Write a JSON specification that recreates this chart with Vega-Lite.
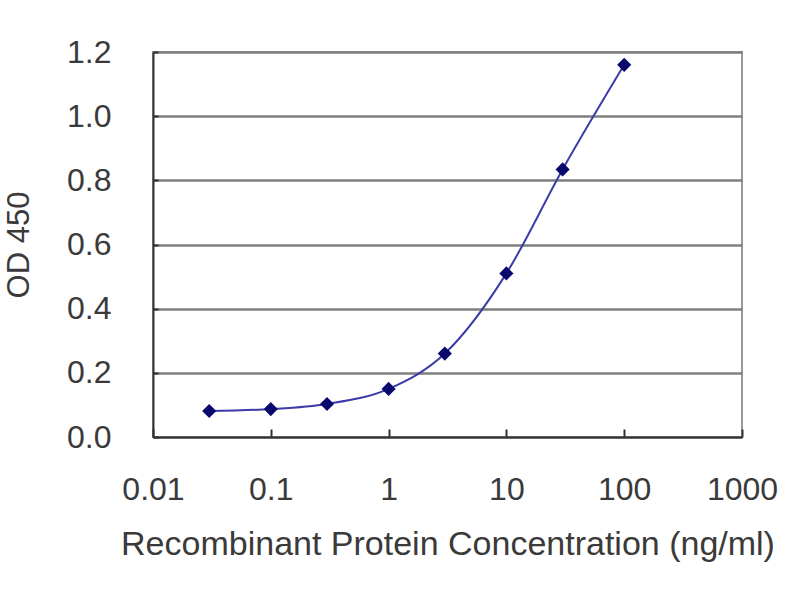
{
  "$schema": "https://vega.github.io/schema/vega-lite/v6.json",
  "autosize": {"type": "none"},
  "padding": {"left": 153, "top": 52, "right": 58, "bottom": 163},
  "width": 589,
  "height": 385,
  "background": "white",
  "config": {
    "view": {"stroke": "#9a9a9a", "strokeWidth": 2},
    "font": "Liberation Sans",
    "axis": {
      "labelFont": "Liberation Sans",
      "titleFont": "Liberation Sans",
      "labelColor": "#3a3a3a",
      "titleColor": "#3a3a3a",
      "titleFontWeight": "normal",
      "domainColor": "#333333",
      "domainWidth": 2,
      "tickColor": "#333333",
      "tickWidth": 2
    }
  },
  "data": {
    "values": [
      {"conc": 0.03, "od": 0.081},
      {"conc": 0.1, "od": 0.087},
      {"conc": 0.3, "od": 0.103},
      {"conc": 1, "od": 0.15},
      {"conc": 3, "od": 0.26},
      {"conc": 10, "od": 0.51},
      {"conc": 30, "od": 0.834},
      {"conc": 100, "od": 1.16}
    ]
  },
  "encoding": {
    "x": {
      "field": "conc",
      "type": "quantitative",
      "scale": {"type": "log", "domain": [0.01, 1000], "nice": false},
      "axis": {
        "title": "Recombinant Protein Concentration (ng/ml)",
        "values": [0.01, 0.1, 1, 10, 100, 1000],
        "format": "~g",
        "labelFontSize": 32,
        "titleFontSize": 34,
        "tickSize": -8,
        "labelPadding": 45,
        "titlePadding": 22,
        "grid": false,
        "labelFlush": false
      }
    },
    "y": {
      "field": "od",
      "type": "quantitative",
      "scale": {"domain": [0, 1.2], "nice": false},
      "axis": {
        "title": "OD 450",
        "values": [0, 0.2, 0.4, 0.6, 0.8, 1.0, 1.2],
        "format": ".1f",
        "labelFontSize": 32,
        "titleFontSize": 31,
        "tickSize": -5,
        "labelPadding": 47,
        "titlePadding": 31,
        "grid": true,
        "gridColor": "#7f7f7f",
        "gridWidth": 2.5,
        "labelFlush": false
      }
    }
  },
  "layer": [
    {"mark": {"type": "line", "color": "#3c3ca8", "strokeWidth": 2, "interpolate": "monotone"}},
    {"mark": {"type": "point", "shape": "diamond", "filled": true, "color": "#0a0a6e", "size": 200, "opacity": 1}}
  ]
}
